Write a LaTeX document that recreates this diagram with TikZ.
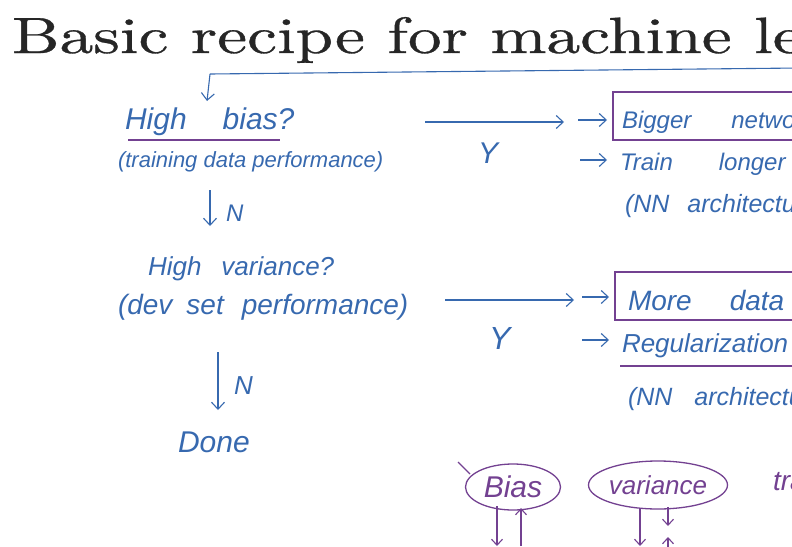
\documentclass[tikz,border=0pt]{standalone}
\usepackage{fontspec}
\usetikzlibrary{arrows.meta,shapes.geometric,calc}
\newfontfamily\hand{Liberation Sans}
\newfontfamily\titlefont{lmroman10-regular}[Extension=.otf,FakeBold=0.6]
\definecolor{ink}{RGB}{55,105,175}
\definecolor{pen}{RGB}{115,65,145}
\begin{document}
\begin{tikzpicture}[x=1pt,y=-1pt,
  every node/.style={inner sep=0pt,outer sep=0pt},
  hw/.style={text=ink,font=\hand\itshape\fontsize{22}{24}\selectfont,anchor=base west},
  hwp/.style={text=pen,font=\hand\itshape\fontsize{26}{28}\selectfont},
  arr/.style={draw=ink,line width=1.1pt,-{Straight Barb[length=7pt,width=13pt]}},
  parr/.style={draw=pen,line width=1.1pt,-{Straight Barb[length=6pt,width=11pt]}},
  ul/.style={draw=pen,line width=1.3pt},
  pbox/.style={draw=pen,line width=1.3pt}]
\useasboundingbox (0,0) rectangle (792,546);
\clip (0,0) rectangle (792,546);
% title
\node[anchor=base west,text=black!85,font=\titlefont\fontsize{51}{60}\selectfont] (title) at (12,53) {\scalebox{1.32}[1]{Basic recipe for machine learning}};
% left column
\node[hw,font=\hand\itshape\fontsize{30}{32}\selectfont] (hb) at (125,129) {High\hspace{36pt}bias?};
\draw[ul] ($(hb.base west)+(3,11)$) coordinate (u1a) -- ($(hb.base east)+(-14,11)$) coordinate (u1b);
\node[hw] (tdp) at (118,167) {(training data performance)};
\coordinate (n1a) at (210,190); \coordinate (n1b) at (210,226);
\draw[arr] (n1a) -- (n1b);
\node[hw,font=\hand\itshape\fontsize{24}{26}\selectfont] (n1) at (226,221) {N};
\node[hw,font=\hand\itshape\fontsize{26}{28}\selectfont] (hv) at (148,275) {High\hspace{20pt}variance?};
\node[hw,font=\hand\itshape\fontsize{28}{30}\selectfont] (dsp) at (118,314) {(dev\hspace{14pt}set\hspace{18pt}performance)};
\coordinate (n2a) at (218,352); \coordinate (n2b) at (218,410);
\draw[arr] (n2a) -- (n2b);
\node[hw,font=\hand\itshape\fontsize{26}{28}\selectfont] (n2) at (234,394) {N};
\node[hw,font=\hand\itshape\fontsize{30}{32}\selectfont] (done) at (178,452) {Done};
% feedback loop
\coordinate (fbR) at (800,68);
\coordinate (fbL) at (210,74);
\coordinate (fbD) at (207,101);
\draw[ink,line width=1.1pt] (fbR) -- (fbL);
\draw[arr] (fbL) -- (fbD);
% first Y branch
\coordinate (y1a) at (425,122); \coordinate (y1b) at (564,122);
\draw[arr] (y1a) -- (y1b);
\node[hw,font=\hand\itshape\fontsize{30}{32}\selectfont] (Y1) at (478,163) {Y};
\node[pbox,anchor=north west,minimum width=200pt,minimum height=48pt] (bnbox) at (613,92) {};
\node[hw,font=\hand\itshape\fontsize{24}{26}\selectfont] (bn) at (622,128) {Bigger\hspace{40pt}network};
\coordinate (s1a) at (578,120); \coordinate (s1b) at (607,120);
\draw[arr] (s1a) -- (s1b);
\coordinate (s2a) at (580,160); \coordinate (s2b) at (607,160);
\draw[arr] (s2a) -- (s2b);
\node[hw,font=\hand\itshape\fontsize{24}{26}\selectfont] (tl) at (620,170) {Train\hspace{46pt}longer};
\node[hw,font=\hand\itshape\fontsize{25}{27}\selectfont] (nas1) at (625,212) {(NN\hspace{18pt}architecture search)};
% second Y branch
\coordinate (y2a) at (445,300); \coordinate (y2b) at (574,300);
\draw[arr] (y2a) -- (y2b);
\node[hw,font=\hand\itshape\fontsize{32}{34}\selectfont] (Y2) at (489,349) {Y};
\node[pbox,anchor=north west,minimum width=200pt,minimum height=48pt] (mdbox) at (615,272) {};
\node[hw,font=\hand\itshape\fontsize{28}{30}\selectfont] (md) at (628,310) {More\hspace{38pt}data};
\coordinate (s3a) at (582,297); \coordinate (s3b) at (609,297);
\draw[arr] (s3a) -- (s3b);
\coordinate (s4a) at (582,340); \coordinate (s4b) at (609,340);
\draw[arr] (s4a) -- (s4b);
\node[hw,font=\hand\itshape\fontsize{26}{28}\selectfont] (reg) at (622,352) {Regularization};
\draw[ul] ($(reg.base west)+(-2,14)$) coordinate (u2a) -- ($(reg.base west)+(200,14)$) coordinate (u2b);
\node[hw,font=\hand\itshape\fontsize{25}{27}\selectfont] (nas2) at (628,405) {(NN\hspace{22pt}architecture search)};
% bias / variance
\node[ellipse,draw=pen,line width=1.3pt,minimum width=95pt,minimum height=46pt,hwp,font=\hand\itshape\fontsize{30}{32}\selectfont] (bias) at (513,487) {Bias};
\node[ellipse,draw=pen,line width=1.3pt,minimum width=135pt,minimum height=48pt,hwp] (var) at (658,485) {variance};
\node[hwp,anchor=base west,font=\hand\itshape\fontsize{28}{30}\selectfont] (tr) at (773,490) {tradeoff};
\coordinate (bt1) at (458,462); \coordinate (bt2) at (470,474);
\draw[pen,line width=1.1pt] (bt1) -- (bt2);
\coordinate (ba1) at (497,506); \coordinate (ba2) at (497,546);
\draw[parr] (ba1) -- (ba2);
\coordinate (bb1) at (521,546); \coordinate (bb2) at (521,508);
\draw[parr] (bb1) -- (bb2);
\coordinate (va1) at (640,508); \coordinate (va2) at (640,546);
\draw[parr] (va1) -- (va2);
\coordinate (vb1) at (668,507); \coordinate (vb2) at (668,526);
\draw[parr] (vb1) -- (vb2);
\coordinate (vc1) at (668,560); \coordinate (vc2) at (668,537);
\draw[parr] (vc1) -- (vc2);
\end{tikzpicture}
\end{document}
